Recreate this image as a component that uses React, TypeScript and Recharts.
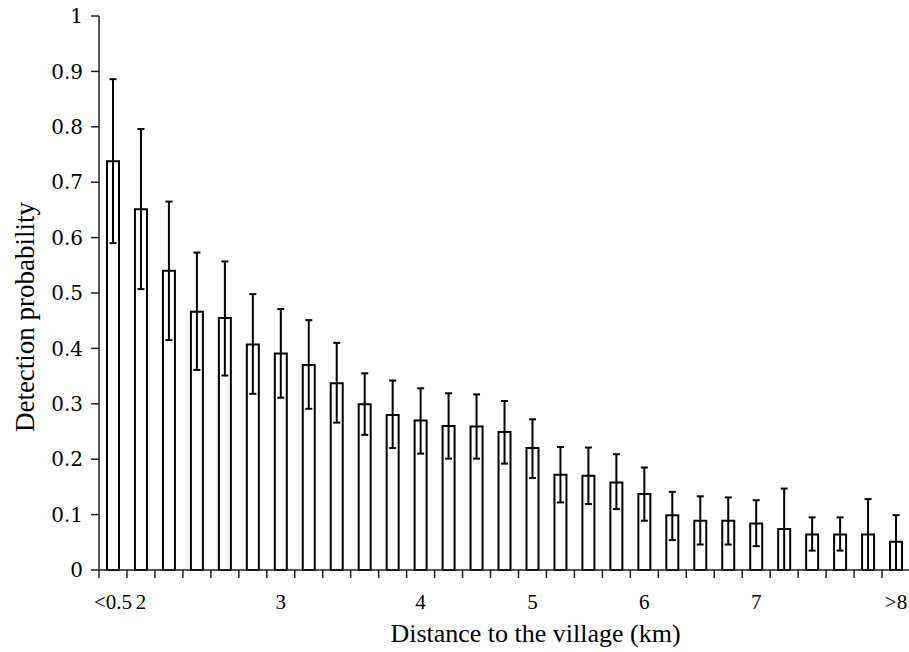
import React from "react";
import { Bar, BarChart, ErrorBar, Label, XAxis, YAxis } from "recharts";

// Distance bins, only some carry a label under the axis
const distanceLabels = [
  "<0.5", "2", "", "", "", "", "3", "", "", "", "", "4", "", "", "", "5",
  "", "", "", "6", "", "", "", "7", "", "", "", "", ">8",
];

const detection = [
  0.738, 0.651, 0.54, 0.466, 0.455, 0.407, 0.391, 0.37, 0.337, 0.299, 0.28, 0.27,
  0.26, 0.259, 0.249, 0.22, 0.172, 0.17, 0.158, 0.137, 0.099, 0.089, 0.089, 0.084,
  0.074, 0.064, 0.064, 0.064, 0.051,
];

const upperCI = [
  0.886, 0.796, 0.665, 0.573, 0.557, 0.498, 0.471, 0.451, 0.41, 0.355, 0.342, 0.328,
  0.319, 0.317, 0.305, 0.272, 0.222, 0.221, 0.209, 0.185, 0.141, 0.133, 0.131, 0.126,
  0.147, 0.095, 0.095, 0.128, 0.099,
];

const lowerCI = [
  0.59, 0.507, 0.415, 0.361, 0.351, 0.318, 0.311, 0.291, 0.266, 0.244, 0.22, 0.21,
  0.201, 0.201, 0.192, 0.166, 0.122, 0.119, 0.11, 0.089, 0.054, 0.046, 0.046, 0.043,
  0, 0.035, 0.035, 0, 0,
];

const yTicks = [0, 0.1, 0.2, 0.3, 0.4, 0.5, 0.6, 0.7, 0.8, 0.9, 1];

const data = detection.map((v, i) => ({
  bin: i,
  value: v,
  err: [v - lowerCI[i], upperCI[i] - v],
}));

const W = 910;
const H = 652;
const M = { top: 16, right: 0, bottom: 0, left: 0 };
const Y_W = 99;
const X_H = 82;
const FONT = "'Liberation Serif', 'Times New Roman', serif";

function DistanceTick(props: any) {
  const { x, y, payload } = props;
  const band = (W - Y_W - M.right) / distanceLabels.length;
  const half = payload.offset || band / 2;
  const axisY = y - 14;
  return (
    <g>
      <line x1={x - half} x2={x - half} y1={axisY} y2={axisY + 8} stroke="#222" strokeWidth={1.5} />
      <text x={x} y={axisY + 39} textAnchor="middle" fontFamily={FONT} fontSize={21} fill="#000">
        {distanceLabels[payload.value]}
      </text>
    </g>
  );
}

function YTitle(props: any) {
  const vb = props.viewBox;
  const cx = vb.x + 25;
  const cy = vb.y + vb.height / 2 + 24;
  return (
    <text
      transform={`translate(${cx},${cy}) rotate(-90)`}
      textAnchor="middle"
      dominantBaseline="central"
      fontFamily={FONT}
      fontSize={27}
      fill="#000"
    >
      Detection probability
    </text>
  );
}

function XTitle(props: any) {
  const vb = props.viewBox;
  return (
    <text
      x={vb.x + vb.width / 2 + 31}
      y={vb.y + 72}
      textAnchor="middle"
      fontFamily={FONT}
      fontSize={26}
      fill="#000"
    >
      Distance to the village (km)
    </text>
  );
}

export default function App() {
  return (
    <div style={{ position: "absolute", left: 0, top: 0, width: 909, height: H, overflow: "hidden", background: "#fff" }}>
      <BarChart width={W} height={H} data={data} margin={M} barCategoryGap={0}>
        <XAxis
          dataKey="bin"
          height={X_H}
          tickLine={false}
          tickSize={8}
          tickMargin={6}
          interval={0}
          axisLine={{ stroke: "#222", strokeWidth: 1.5 }}
          tick={<DistanceTick />}
        >
          <Label content={<XTitle />} />
        </XAxis>
        <YAxis
          width={Y_W}
          domain={[0, 1]}
          ticks={yTicks}
          interval={0}
          tickSize={8}
          tickMargin={8}
          tickFormatter={(v: number) => String(Number(v.toFixed(1)))}
          tick={{ fill: "#000", fontFamily: "'DejaVu Serif', serif", fontSize: 20 }}
          tickLine={{ stroke: "#222", strokeWidth: 1.5 }}
          axisLine={{ stroke: "#222", strokeWidth: 1.5 }}
        >
          <Label content={<YTitle />} />
        </YAxis>
        <Bar dataKey="value" fill="#fff" stroke="#000" strokeWidth={2} barSize={12} isAnimationActive={false}>
          <ErrorBar dataKey="err" width={3.5} stroke="#000" strokeWidth={2} direction="y" />
        </Bar>
      </BarChart>
    </div>
  );
}
